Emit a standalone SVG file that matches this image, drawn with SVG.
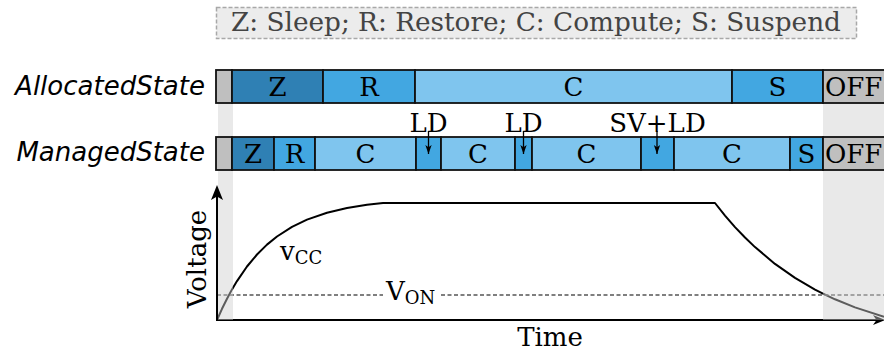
<svg xmlns="http://www.w3.org/2000/svg" width="884" height="355" viewBox="0 0 884 355">
<defs>
<style>
.serif{font-family:"DejaVu Serif","Liberation Serif",serif;fill:#000}
.lbl{font-family:"DejaVu Sans","Liberation Sans",sans-serif;font-style:italic;font-size:26px;text-anchor:end}
.bt{font-family:"DejaVu Serif","Liberation Serif",serif;font-size:26px;text-anchor:middle}
.seg{stroke:#111;stroke-width:1.8}
.z{fill:#2f80b4}
.r{fill:#42a7e1}
.c{fill:#7fc5ee}
.g{fill:#bfbfbf}
.band{fill:#cfcfcf;fill-opacity:0.45}
</style>
<marker id="ah" viewBox="0 0 10 10" refX="10" refY="5" markerWidth="9" markerHeight="9" markerUnits="userSpaceOnUse" orient="auto">
<path d="M0,1.5 L10,5 L0,8.5 L2.5,5 Z" fill="#000"/>
</marker>
</defs>
<rect width="884" height="355" fill="#fff"/>

<g id="legend">
<rect x="216.5" y="7.5" width="640" height="31" fill="#ececec" stroke="#a8a8a8" stroke-width="1.5" stroke-dasharray="4 2"/>
<text class="serif" x="536" y="31" font-size="26.3" text-anchor="middle" style="fill:#444">Z: Sleep; R: Restore; C: Compute; S: Suspend</text>
</g>

<g id="plot">
<path d="M217,320 L222,308.8 L227,298.7 L232,289.4 L237,281.1 L247,266.5 L257,254.5 L267,244.6 L277,236.5 L292,226.8 L307,219.6 L327,212.7 L347,208 L367,204.8 L383,203 L715,203 L725,215.6 L735,227.1 L745,237.5 L755,247.1 L775,263.9 L795,277.9 L815,289.6 L823,293.6 L835,299.3 L855,307.4 L884,316.8" fill="none" stroke="#000" stroke-width="2" stroke-linejoin="round"/>
<path d="M217,295 H383 M441,295 H884" stroke="#555" stroke-width="1.5" stroke-dasharray="4 2.5" fill="none"/>
<text class="serif" x="386" y="300" font-size="26">V<tspan font-size="18" dy="4">ON</tspan></text>
<text class="serif" x="280" y="260" font-size="26">v<tspan font-size="18" dy="4">CC</tspan></text>
<text class="serif" x="0" y="0" font-size="26" text-anchor="middle" transform="translate(206,259) rotate(-90)">Voltage</text>
<text class="serif" x="550" y="346" font-size="26" text-anchor="middle">Time</text>
<line x1="216" y1="320" x2="878" y2="320" stroke="#000" stroke-width="2"/>
<path d="M885,320 L873,315 L876.5,320 L873,325 Z" fill="#000"/>
</g>

<g id="bands">
<rect class="band" x="218" y="70" width="15" height="250"/>
<rect class="band" x="823" y="70" width="61" height="250"/>
</g>

<g id="yaxis">
<line x1="217" y1="321" x2="217" y2="196" stroke="#000" stroke-width="2"/>
<path d="M217,185 L223,200 L217,196.5 L211,200 Z" fill="#000"/>
</g>

<g id="allocated">
<text class="lbl" x="205" y="95">AllocatedState</text>
<rect class="g seg" x="216" y="70" width="16" height="33"/>
<rect class="z seg" x="232" y="70" width="91" height="33"/>
<rect class="r seg" x="323" y="70" width="92" height="33"/>
<rect class="c seg" x="415" y="70" width="317" height="33"/>
<rect class="r seg" x="732" y="70" width="91" height="33"/>
<rect class="g seg" x="823" y="70" width="70" height="33"/>
<text class="bt" x="277.5" y="96">Z</text>
<text class="bt" x="369" y="96">R</text>
<text class="bt" x="573.5" y="96">C</text>
<text class="bt" x="777.5" y="96">S</text>
<text class="bt" x="825" y="96" style="text-anchor:start">OFF</text>
</g>

<g id="managed">
<text class="lbl" x="205" y="161">ManagedState</text>
<rect class="g seg" x="216" y="137" width="16" height="33"/>
<rect class="z seg" x="232" y="137" width="42" height="33"/>
<rect class="r seg" x="274" y="137" width="41" height="33"/>
<rect class="c seg" x="315" y="137" width="101" height="33"/>
<rect class="r seg" x="416" y="137" width="25" height="33"/>
<rect class="c seg" x="441" y="137" width="74" height="33"/>
<rect class="r seg" x="515" y="137" width="17" height="33"/>
<rect class="c seg" x="532" y="137" width="109" height="33"/>
<rect class="r seg" x="641" y="137" width="33" height="33"/>
<rect class="c seg" x="674" y="137" width="116" height="33"/>
<rect class="r seg" x="790" y="137" width="33" height="33"/>
<rect class="g seg" x="823" y="137" width="70" height="33"/>
<text class="bt" x="253" y="163">Z</text>
<text class="bt" x="294.5" y="163">R</text>
<text class="bt" x="365.5" y="163">C</text>
<text class="bt" x="478" y="163">C</text>
<text class="bt" x="586.5" y="163">C</text>
<text class="bt" x="732" y="163">C</text>
<text class="bt" x="806.5" y="163">S</text>
<text class="bt" x="825" y="163" style="text-anchor:start">OFF</text>
</g>

<g id="events">
<text class="bt" x="428.5" y="132">LD</text>
<text class="bt" x="523.5" y="132">LD</text>
<text class="bt" x="657.5" y="132">SV+LD</text>
</g>

<g id="connectors">
<line x1="428.5" y1="131" x2="428.5" y2="154" stroke="#000" stroke-width="1.3" marker-end="url(#ah)"/>
<line x1="523.5" y1="131" x2="523.5" y2="154" stroke="#000" stroke-width="1.3" marker-end="url(#ah)"/>
<line x1="657" y1="131" x2="657" y2="154" stroke="#000" stroke-width="1.3" marker-end="url(#ah)"/>
</g>
</svg>
